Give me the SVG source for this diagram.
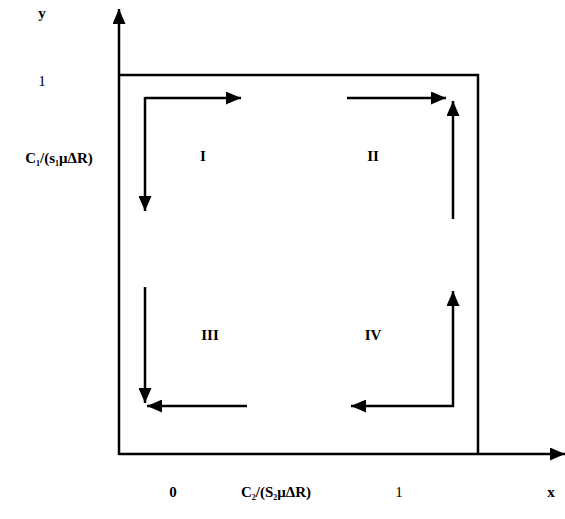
<svg xmlns="http://www.w3.org/2000/svg" width="565" height="519" viewBox="0 0 565 519">
<defs>
<marker id="ah" viewBox="0 0 15 13" refX="15" refY="6.5" markerWidth="15" markerHeight="13" markerUnits="userSpaceOnUse" orient="auto">
<path d="M0,0 L15,6.5 L0,13 Z" fill="#000"/>
</marker>
</defs>
<style>
.ln{stroke:#000;stroke-width:2.5;fill:none}
.ar{stroke:#000;stroke-width:2.5;fill:none;marker-end:url(#ah)}
.t{font-family:'Liberation Serif','DejaVu Serif',serif;font-size:15px;fill:#000}
.b{font-weight:bold}
</style>
<g id="axes">
<path class="ar" d="M119,455 L119,9"/>
<path class="ar" d="M119,454 L565,454"/>
<path class="ln" d="M119,75 L478,75 L478,454"/>
</g>
<g id="connectors">
<path class="ar" d="M145,98 L241,98"/>
<path class="ar" d="M145,97 L145,211"/>
<path class="ar" d="M347,98 L446,98"/>
<path class="ar" d="M453,219 L453,101"/>
<path class="ar" d="M145,287 L145,403"/>
<path class="ar" d="M247,406 L147,406"/>
<path class="ar" d="M454,406 L351,406"/>
<path class="ar" d="M453,407 L453,291"/>
</g>
<g id="label-I"><text class="t b" x="203" y="161" text-anchor="middle">I</text></g>
<g id="label-II"><text class="t b" x="373" y="161" text-anchor="middle">II</text></g>
<g id="label-III"><text class="t b" x="210" y="340" text-anchor="middle">III</text></g>
<g id="label-IV"><text class="t b" x="373" y="340" text-anchor="middle">IV</text></g>
<g id="y-label"><text class="t b" x="42" y="18" text-anchor="middle">y</text></g>
<g id="y-1"><text class="t" x="42" y="86" text-anchor="middle">1</text></g>
<g id="y-c1"><text class="t b" x="59" y="163" text-anchor="middle" font-size="14">C<tspan font-size="8" dy="3">1</tspan><tspan dy="-3">/(s</tspan><tspan font-size="8" dy="3">1</tspan><tspan dy="-3">μΔR)</tspan></text></g>
<g id="x-0"><text class="t b" x="173" y="497" text-anchor="middle">0</text></g>
<g id="x-c2"><text class="t b" x="276" y="497" text-anchor="middle" font-size="14">C<tspan font-size="8" dy="3">2</tspan><tspan dy="-3">/(S</tspan><tspan font-size="8" dy="3">2</tspan><tspan dy="-3">μΔR)</tspan></text></g>
<g id="x-1"><text class="t" x="399" y="497" text-anchor="middle">1</text></g>
<g id="x-label"><text class="t b" x="551" y="497" text-anchor="middle">x</text></g>
</svg>
